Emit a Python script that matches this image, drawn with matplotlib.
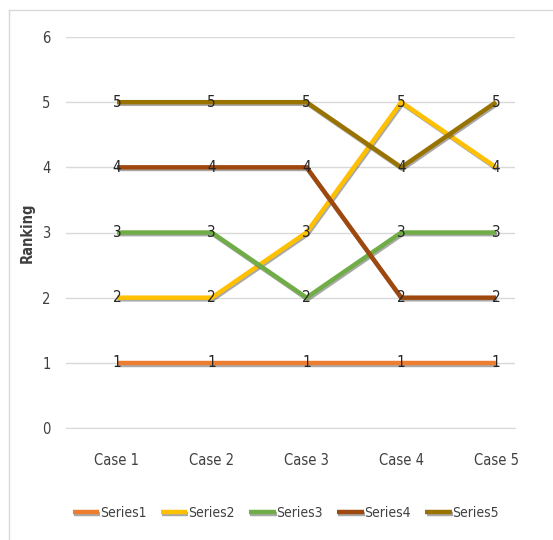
import matplotlib
matplotlib.use('Agg')
import matplotlib.pyplot as plt
import matplotlib.patheffects as pe
from matplotlib.lines import Line2D

plt.rcParams['font.family'] = ['DejaVu Sans']
plt.rcParams['font.stretch'] = 'condensed'

cases = ['Case 1', 'Case 2', 'Case 3', 'Case 4', 'Case 5']
series1 = [1, 1, 1, 1, 1]
series2 = [2, 2, 3, 5, 4]
series3 = [3, 3, 2, 3, 3]
series4 = [4, 4, 4, 2, 2]
series5 = [5, 5, 5, 4, 5]
series_names = ['Series1', 'Series2', 'Series3', 'Series4', 'Series5']
colors = ['#ED7D31', '#FFC000', '#70AD47', '#9E480E', '#997300']

fig = plt.figure(figsize=(5.53, 5.4), dpi=100)
ax = fig.add_axes([66 / 553, 112 / 540, 449 / 553, 391 / 540])

# thin chart-area frame (left and top edges only)
fig.add_artist(Line2D([9 / 553, 9 / 553], [0, 1 - 10 / 540], color='#D9D9D9', lw=1))
fig.add_artist(Line2D([9 / 553, 1], [1 - 10 / 540, 1 - 10 / 540], color='#D9D9D9', lw=1))

x = list(range(len(cases)))
shadow = [pe.SimpleLineShadow(offset=(0.8, -1.2), shadow_color='#404040', alpha=0.45), pe.Normal()]
for vals, name, c in zip([series1, series2, series3, series4, series5], series_names, colors):
    ax.plot(x, vals, color=c, lw=3.2, label=name, solid_capstyle='butt',
            solid_joinstyle='miter', path_effects=shadow, zorder=3)
    for xi, v in zip(x, vals):
        ax.text(xi, v, str(v), ha='center', va='center', fontsize=11,
                color='#262626', zorder=4)

ax.set_xlim(-0.538, 4.2)
ax.set_ylim(0, 6)
ax.set_yticks(range(7))
ax.set_xticks(x)
ax.set_xticklabels(cases)
ax.yaxis.grid(True, color='#D9D9D9', lw=1)
ax.set_axisbelow(True)
for s in ax.spines.values():
    s.set_visible(False)
ax.spines['bottom'].set_visible(True)
ax.spines['bottom'].set_color('#D9D9D9')
ax.tick_params(length=0, labelsize=10.5, colors='#404040')
ax.tick_params(axis='x', pad=18)
ax.tick_params(axis='y', pad=11)
ax.set_ylabel('Ranking', fontsize=10.5, fontweight='bold', color='#404040')
ax.yaxis.set_label_coords(-0.069, 0.5)

leg = ax.legend(loc='center', bbox_to_anchor=(0.49, -0.217), ncol=5, frameon=False,
                fontsize=10, handlelength=1.9, handletextpad=0.05, columnspacing=1.05,
                labelcolor='#404040')

fig.savefig('out.png', dpi=100, facecolor='white')
